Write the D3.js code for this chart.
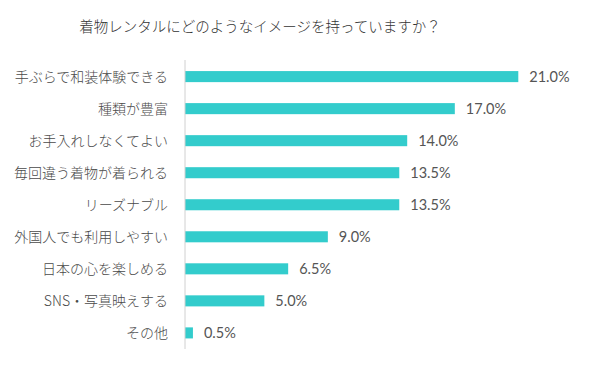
<!DOCTYPE html>
<html lang="ja">
<head>
<meta charset="UTF-8">
<title>着物レンタルのイメージ</title>
<script src="https://d3js.org/d3.v7.min.js"></script>
<style>
  body { margin: 0; background: #fff; }
  text { font-family: "Noto Sans CJK JP", "Lato", sans-serif; font-weight: 300; }
</style>
</head>
<body>
<div id="chart"></div>
<script>
const categories = ["手ぶらで和装体験できる", "種類が豊富", "お手入れしなくてよい", "毎回違う着物が着られる",
  "リーズナブル", "外国人でも利用しやすい", "日本の心を楽しめる", "SNS・写真映えする", "その他"];
const values = [21.0, 17.0, 14.0, 13.5, 13.5, 9.0, 6.5, 5.0, 0.5];
const title = "着物レンタルにどのようなイメージを持っていますか？";

const W = 600, H = 367;
const svg = d3.select("#chart").append("svg")
  .attr("width", W).attr("height", H);

// x scale: 0..21 maps to axis .. end of longest bar
const x = d3.scaleLinear().domain([0, 21]).range([185, 518.3]);
const y = d3.scaleBand().domain(categories).range([60.5, 349]).paddingInner(0.655).paddingOuter(0.33);

svg.append("text")
  .attr("x", 260).attr("y", 32)
  .attr("text-anchor", "middle")
  .style("font-size", "14.5px")
  .style("fill", "#333")
  .text(title);

svg.selectAll("rect.bar")
  .data(values)
  .join("rect")
  .attr("class", "bar")
  .attr("x", x(0))
  .attr("y", (d, i) => y(categories[i]))
  .attr("width", d => x(d) - x(0))
  .attr("height", y.bandwidth())
  .attr("fill", "#33cccc");

// axis line
svg.append("line")
  .attr("x1", x(0)).attr("x2", x(0))
  .attr("y1", 60).attr("y2", 349)
  .attr("stroke", "#d0d0d0").attr("stroke-width", 1);

svg.selectAll("text.cat")
  .data(categories)
  .join("text")
  .attr("class", "cat")
  .attr("x", 168)
  .attr("y", d => y(d) + y.bandwidth() / 2)
  .attr("dy", "0.36em")
  .attr("text-anchor", "end")
  .style("font-size", "14px")
  .style("fill", "#4a4a4a")
  .text(d => d);

svg.selectAll("text.val")
  .data(values)
  .join("text")
  .attr("class", "val")
  .attr("x", d => x(d) + 11)
  .attr("y", (d, i) => y(categories[i]) + y.bandwidth() / 2)
  .attr("dy", "0.36em")
  .style("font-family", "Lato, sans-serif")
  .style("font-weight", "400")
  .style("font-size", "14.5px")
  .style("fill", "#555")
  .text(d => d.toFixed(1) + "%");
</script>
</body>
</html>
